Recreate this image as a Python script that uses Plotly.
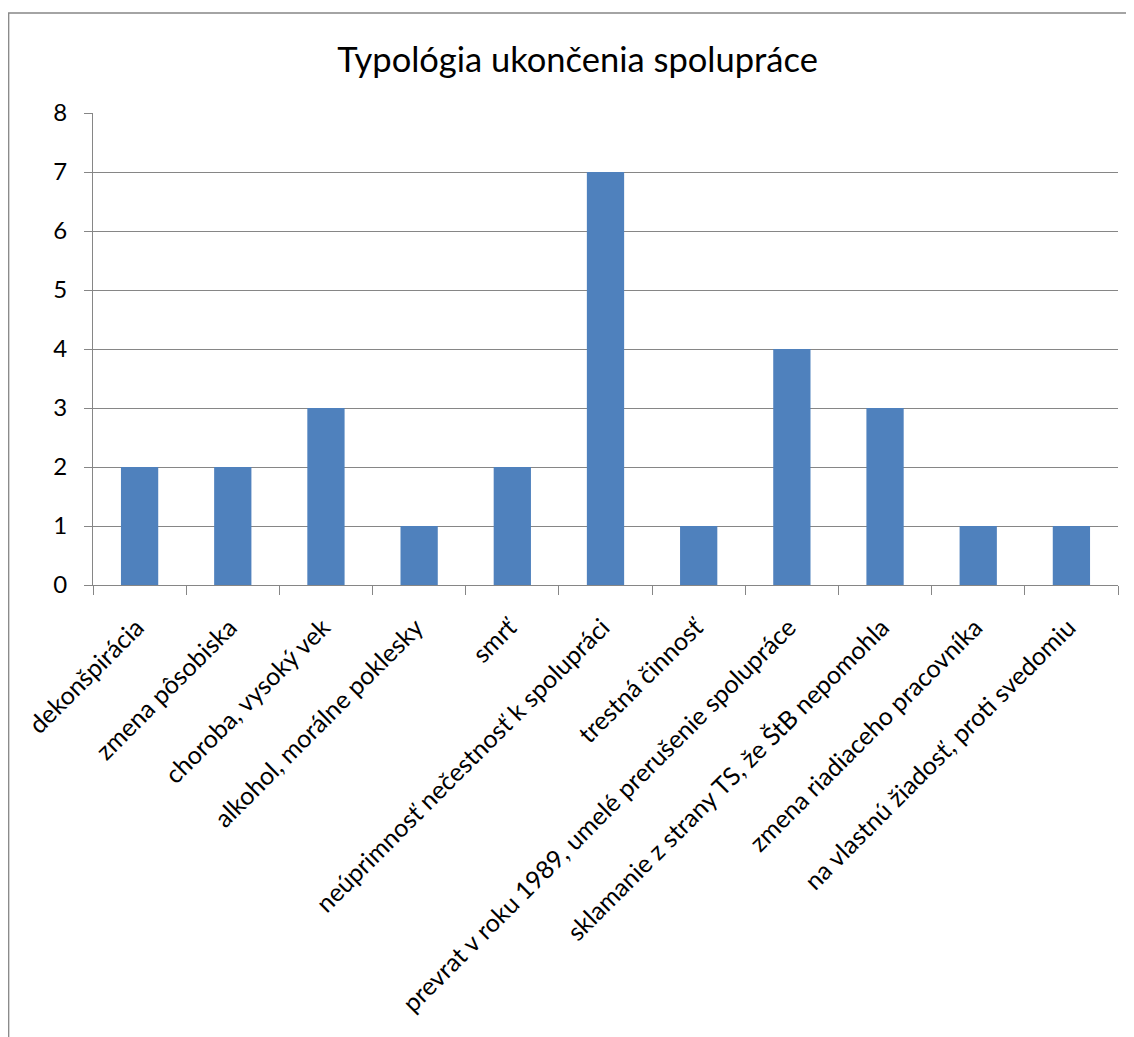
import plotly.graph_objects as go

categories = [
    "dekonšpirácia",
    "zmena pôsobiska",
    "choroba, vysoký vek",
    "alkohol, morálne poklesky",
    "smrť",
    "neúprimnosť nečestnosť k spolupráci",
    "trestná činnosť",
    "prevrat v roku 1989, umelé prerušenie spolupráce",
    "sklamanie z strany TS, že ŠtB nepomohla",
    "zmena riadiaceho pracovníka",
    "na vlastnú žiadosť, proti svedomiu",
]
values = [2, 2, 3, 1, 2, 7, 1, 4, 3, 1, 1]
y_ticks = [0, 1, 2, 3, 4, 5, 6, 7, 8]
title_text = "Typológia ukončenia spolupráce"

FONT = "Lato"
GRAY = "#868686"

# page body has an 8px margin; figure coordinates = reference - 8
OFF = 8
W, H = 1134 - OFF, 1037 - OFF
L, R, T, B = 93 - OFF, 1118 - OFF, 113 - OFF, 585 - OFF

fig = go.Figure(go.Bar(x=categories, y=values, marker_color="#4F81BD",
                       marker_line_width=0))

def px_x(p):
    return (p - OFF - L) / (R - L)

def px_y(p):
    return (B - (p - OFF)) / (B - T)

fig.update_layout(
    width=W, height=H,
    margin=dict(l=L, r=W - R, t=T, b=H - B, pad=0),
    paper_bgcolor="white", plot_bgcolor="white",
    bargap=0.6,
    showlegend=False,
    font=dict(family=FONT, color="black", size=24),
    title=dict(text=title_text, x=(577.5 - OFF) / W, xanchor="center",
               y=1 - (60 - OFF) / H, yanchor="middle",
               font=dict(family=FONT, size=34.5, color="black")),
    shapes=[dict(type="rect", xref="paper", yref="paper",
                 x0=px_x(8.7), x1=px_x(1133), y0=px_y(1060), y1=px_y(13),
                 line=dict(color=GRAY, width=1.3), fillcolor="rgba(0,0,0,0)",
                 layer="below")],
)
fig.update_xaxes(type="category", tickangle=-45, tickson="boundaries",
                 ticks="outside", ticklen=9, tickcolor=GRAY, showline=True,
                 linecolor=GRAY, linewidth=1, showgrid=False,
                 ticklabelstandoff=17, ticklabelshift=-3,
                 tickfont=dict(family=FONT, size=25, color="black"))
fig.update_yaxes(range=[0, 8], tickvals=y_ticks, ticks="outside", ticklen=8,
                 tickcolor=GRAY, showline=True, linecolor=GRAY, linewidth=1,
                 showgrid=True, gridcolor=GRAY, gridwidth=1, zeroline=False,
                 ticklabelstandoff=12,
                 tickfont=dict(family=FONT, size=24, color="black"))

fig.write_html("out.html")
